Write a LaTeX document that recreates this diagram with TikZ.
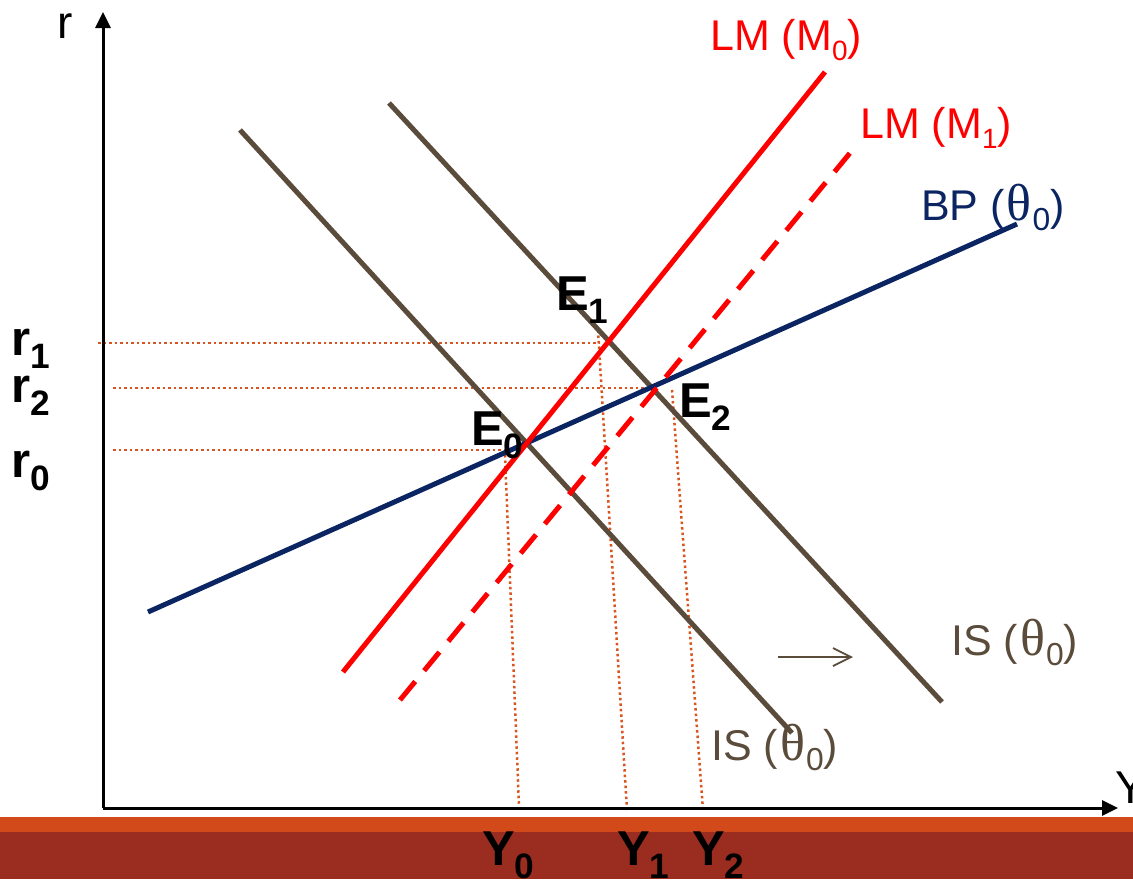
\documentclass[tikz,border=0pt]{standalone}
\usepackage{fontspec}
\usepackage{graphicx}
\setmainfont{Liberation Sans}
\newfontfamily\thfont{Liberation Serif}
\usetikzlibrary{arrows.meta}
\definecolor{navyc}{HTML}{0B2462}
\definecolor{brownc}{HTML}{5A4B3B}
\definecolor{dotc}{HTML}{D9541E}
\definecolor{stripec}{HTML}{D24A1A}
\definecolor{bandc}{HTML}{9A2C20}
\newcommand{\lsub}[1]{\raisebox{-0.24em}{\scalebox{0.65}{#1}}}
\newcommand{\tsub}[1]{\raisebox{-0.24em}{\scalebox{0.74}{#1}}}
\newcommand{\bsub}[1]{\raisebox{-0.28em}{\scalebox{0.72}{#1}}}
\newcommand{\thz}{\hspace{2pt}{\thfont\fontsize{52}{56}\selectfont θ}\hspace{1pt}}
\tikzset{
  axisline/.style={line width=3pt,-{Triangle[length=16pt,width=15pt]}},
  curve/.style={line width=5pt},
  guide/.style={dotc,line width=2.5pt,dash pattern=on 2.5pt off 3pt},
  lbl/.style={inner sep=0pt,anchor=base west,font=\fontsize{43}{50}\selectfont},
  blbl/.style={inner sep=0pt,anchor=base west,font=\fontsize{49}{56}\selectfont\bfseries},
}
\begin{document}
\begin{tikzpicture}[x=1pt,y=-1pt]
\useasboundingbox (0,0) rectangle (1133,879);
% bottom band
\fill[stripec] (0,817) rectangle (1133,832);
\fill[bandc] (0,832) rectangle (1133,879);
% coordinates
\coordinate (O) at (103,808);
\coordinate (ytip) at (103,12);
\coordinate (xtip) at (1118,808);
\coordinate (bpA) at (148,612);
\coordinate (bpB) at (1017,224);
\coordinate (lm0A) at (343,672);
\coordinate (lm0B) at (825,72);
\coordinate (lm1A) at (400,700);
\coordinate (lm1B) at (850,153);
\coordinate (is0A) at (240,130);
\coordinate (is0B) at (792,733);
\coordinate (is1A) at (389,103);
\coordinate (is1B) at (942,702);
\coordinate (shA) at (778,657);
\coordinate (shB) at (853,657);
% guide coordinates
\coordinate (r1L) at (98,343);
\coordinate (r1R) at (600,343);
\coordinate (r2L) at (113,388);
\coordinate (r2R) at (652,388);
\coordinate (r0L) at (113,450);
\coordinate (r0R) at (507,450);
\coordinate (y0T) at (505,455);
\coordinate (y0B) at (519,806);
\coordinate (y1T) at (598,330);
\coordinate (y1B) at (627,810);
\coordinate (y2T) at (672,390);
\coordinate (y2B) at (703,810);
% dotted guides
\draw[guide] (r1L) -- (r1R);
\draw[guide] (r2L) -- (r2R);
\draw[guide] (r0L) -- (r0R);
\draw[guide] (y0T) -- (y0B);
\draw[guide] (y1T) -- (y1B);
\draw[guide] (y2T) -- (y2B);
% axes
\draw[axisline] (O) -- (ytip);
\draw[axisline] (O) -- (xtip);
% curves
\draw[curve,brownc] (is0A) -- (is0B);
\draw[curve,brownc] (is1A) -- (is1B);
\draw[curve,navyc] (bpA) -- (bpB);
\draw[curve,red] (lm0A) -- (lm0B);
\draw[curve,red,dash pattern=on 24pt off 14pt] (lm1A) -- (lm1B);
\draw[brownc,line width=1.8pt,-{Straight Barb[length=18pt,width=18pt]}] (shA) -- (shB);
% labels
\node[lbl,font=\fontsize{46}{52}\selectfont] (rlab) at (57,38) {r};
\node[lbl,font=\fontsize{46}{52}\selectfont] (Ylab) at (1115,803) {Y};
\node[lbl,text=red] (lm0lab) at (710,50) {LM (M\lsub{0})};
\node[lbl,text=red] (lm1lab) at (860,138) {LM (M\lsub{1})};
\node[lbl,text=navyc] (bplab) at (921,220) {BP (\thz\tsub{0})};
\node[lbl,text=brownc] (is1lab) at (951,655) {IS (\thz\tsub{0})};
\node[lbl,text=brownc] (is0lab) at (711,760) {IS (\thz\tsub{0})};
\node[blbl] (e1lab) at (556,310) {E\bsub{1}};
\node[blbl] (e2lab) at (679,417) {E\bsub{2}};
\node[blbl] (e0lab) at (471,445) {E\bsub{0}};
\node[blbl] (r1lab) at (11,355) {r\bsub{1}};
\node[blbl] (r2lab) at (11,402) {r\bsub{2}};
\node[blbl] (r0lab) at (11,477) {r\bsub{0}};
\node[blbl] (y0lab) at (482,865) {Y\bsub{0}};
\node[blbl] (y1lab) at (617,865) {Y\bsub{1}};
\node[blbl] (y2lab) at (692,865) {Y\bsub{2}};
\end{tikzpicture}
\end{document}
